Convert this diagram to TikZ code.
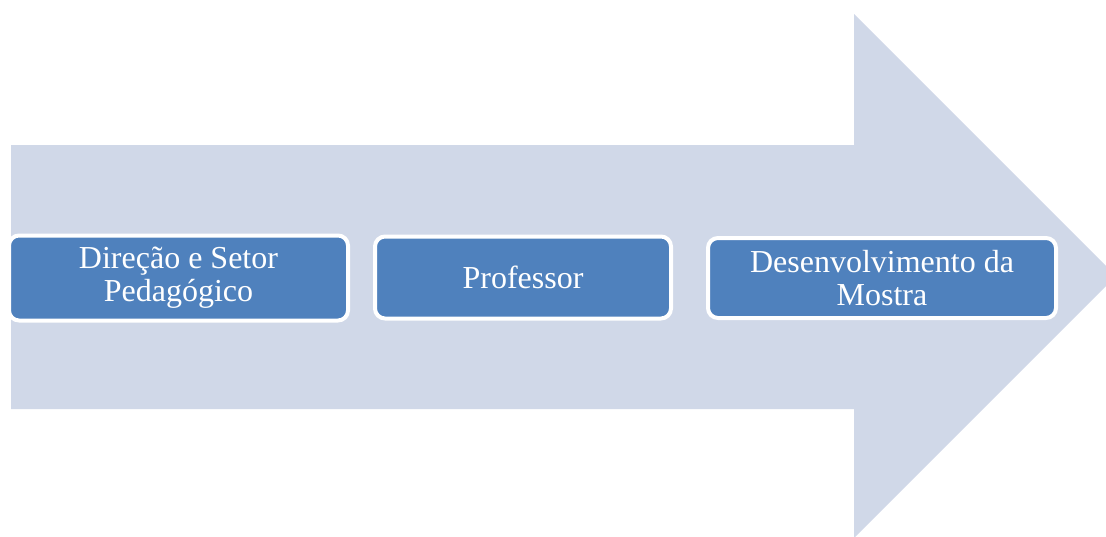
\documentclass[tikz,border=0pt]{standalone}
\usepackage{fontspec}
\setmainfont{Liberation Serif}
\definecolor{arrowfill}{RGB}{208,216,232}
\definecolor{boxfill}{RGB}{79,129,189}
\begin{document}
\begin{tikzpicture}[x=1pt,y=-1pt,
  stepbox/.style={draw=white, line width=4pt, fill=boxfill, rounded corners=10pt,
    text=white, align=center, inner sep=0pt,
    font=\fontsize{32}{33}\selectfont}]
\clip (0,0) rectangle (1106,536);
\fill[arrowfill] (11,145) -- (854,145) -- (854,14) -- (1116,276) -- (854,538) -- (854,409) -- (11,409) -- cycle;
\node[stepbox, minimum width=339pt, minimum height=85pt] (a) at (178.5,278) {Direção e Setor\\Pedagógico};
\node[stepbox, minimum width=296pt, minimum height=82pt] (b) at (523,277.5) {Professor};
\node[stepbox, minimum width=348pt, minimum height=80pt] (c) at (882,278) {Desenvolvimento da\\Mostra};
\end{tikzpicture}
\end{document}
